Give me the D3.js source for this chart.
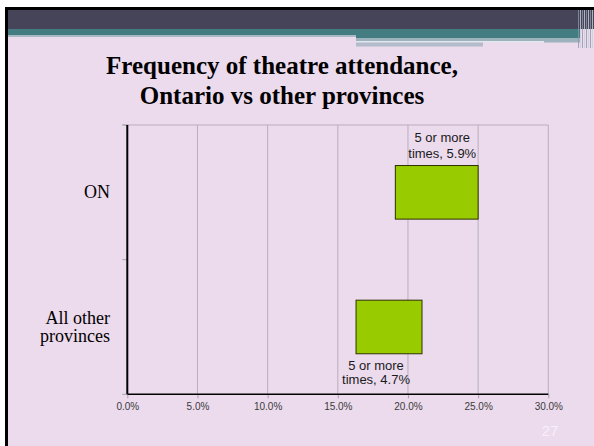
<!DOCTYPE html>
<html><head><meta charset="utf-8">
<script src="https://cdn.jsdelivr.net/npm/d3@7"></script>
<style>html,body{margin:0;padding:0;background:#fff;}svg{display:block;}</style>
</head><body>
<script>
const categories = ["ON", "All other provinces"];
const offsets = [19.1, 16.3];        // invisible leading segment (%)
const values = [5.9, 4.7];           // "5 or more times" (%)
const tickValues = [0, 5, 10, 15, 20, 25, 30];
const tickLabels = ["0.0%", "5.0%", "10.0%", "15.0%", "20.0%", "25.0%", "30.0%"];
const seriesName = "5 or more times";
const titleLines = ["Frequency of theatre attendance,", "Ontario vs other provinces"];
const catLines = [["ON"], ["All other", "provinces"]];
const pageNumber = "27";

const W = 594, H = 446;
const svg = d3.select("body").append("svg").attr("width", W).attr("height", H);

// slide frame
svg.append("rect").attr("x", 5).attr("y", 7).attr("width", W - 5).attr("height", H - 7).attr("fill", "#000");
svg.append("rect").attr("x", 8).attr("y", 10).attr("width", W - 8).attr("height", H - 10).attr("fill", "#ecdaed");
// header decoration
svg.append("rect").attr("x", 8).attr("y", 10).attr("width", W - 8).attr("height", 19).attr("fill", "#454459");
svg.append("rect").attr("x", 8).attr("y", 29).attr("width", 572).attr("height", 6).attr("fill", "#437d81");
svg.append("rect").attr("x", 8).attr("y", 35).attr("width", 348).attr("height", 2).attr("fill", "#a9b9c4");
svg.append("rect").attr("x", 356).attr("y", 35).attr("width", 224).attr("height", 3).attr("fill", "#437d81");
svg.append("rect").attr("x", 356).attr("y", 38).attr("width", 224).attr("height", 3).attr("fill", "#9cb2bd");
svg.append("rect").attr("x", 356).attr("y", 41).attr("width", 188).attr("height", 1.5).attr("fill", "#e2e6ee");
svg.append("rect").attr("x", 544).attr("y", 41).attr("width", 36).attr("height", 1.5).attr("fill", "#9cb2bd");
svg.append("rect").attr("x", 356).attr("y", 42.5).attr("width", 127).attr("height", 4).attr("fill", "#b3bccb");
// checkered right edge
const chk = svg.append("g");
for (let i = 0; i < 8; i++) {
  chk.append("rect").attr("x", 578 + i * 2).attr("y", 10).attr("width", 1).attr("height", 38)
    .attr("fill", i % 2 ? "#c8d0d8" : "#8c96a8").attr("opacity", 0.8);
}

// title
const title = svg.append("text").attr("text-anchor", "middle")
  .attr("font-family", "'Liberation Serif', 'Times New Roman', serif").attr("font-weight", "bold")
  .attr("font-size", 25).attr("fill", "#000");
titleLines.forEach((t, i) => title.append("tspan").attr("x", 282).attr("y", 74 + i * 29.5).text(t));

// plot
const x0 = 127.3, x1 = 548.3, yTop = 125, yBot = 394.3;
const x = d3.scaleLinear().domain([0, 30]).range([x0, x1]);
const y = d3.scaleBand().domain(categories).range([yTop, yBot]).paddingInner(0.602).paddingOuter(0.301);

const g = svg.append("g");
// gridlines
g.selectAll("line.grid").data(tickValues.slice(1)).enter().append("line")
  .attr("x1", d => x(d)).attr("x2", d => x(d)).attr("y1", yTop).attr("y2", yBot)
  .attr("stroke", "#b9afbd").attr("stroke-width", 1);
g.append("line").attr("x1", x0 - 5).attr("x2", x1).attr("y1", yTop).attr("y2", yTop)
  .attr("stroke", "#b9afbd").attr("stroke-width", 1);

// x axis
const xAxis = d3.axisBottom(x).tickValues(tickValues).tickFormat((d, i) => tickLabels[i]).tickSize(4).tickPadding(5);
const xa = g.append("g").attr("transform", `translate(0,${yBot})`).call(xAxis);
xa.select(".domain").remove();
xa.selectAll(".tick line").attr("stroke", "#a8a0ac");
xa.selectAll(".tick text").attr("font-family", "'Liberation Sans', Arial, sans-serif").attr("font-size", 10).attr("fill", "#3a3a3a");
g.append("line").attr("x1", x0).attr("x2", x1).attr("y1", yBot).attr("y2", yBot).attr("stroke", "#000").attr("stroke-width", 1.5);

// y ticks (category boundaries)
const step = y.step();
[yTop, yTop + step, yBot].forEach(v => g.append("line").attr("x1", x0 - 5).attr("x2", x0).attr("y1", v).attr("y2", v).attr("stroke", "#a8a0ac"));
g.append("line").attr("x1", x0).attr("x2", x0).attr("y1", yTop).attr("y2", yBot).attr("stroke", "#000").attr("stroke-width", 2);

// category labels
categories.forEach((c, i) => {
  const lines = catLines[i];
  const cy = y(c) + y.bandwidth() / 2;
  const t = g.append("text").attr("text-anchor", "end")
    .attr("font-family", "'Liberation Serif', 'Times New Roman', serif").attr("font-size", 18).attr("fill", "#000");
  lines.forEach((l, j) => t.append("tspan").attr("x", 110)
    .attr("y", cy + 6 + (j - (lines.length - 1) / 2) * 18.5).text(l));
});

// bars
g.selectAll("rect.bar").data(categories).enter().append("rect")
  .attr("x", (d, i) => x(offsets[i])).attr("y", d => y(d))
  .attr("width", (d, i) => x(offsets[i] + values[i]) - x(offsets[i])).attr("height", y.bandwidth())
  .attr("fill", "#99cc00").attr("stroke", "#2e3000").attr("stroke-width", 1);

// data labels
const labelDx = [5.5, -13];
categories.forEach((c, i) => {
  const cx = x(offsets[i] + values[i] / 2) + labelDx[i];
  const t = g.append("text").attr("text-anchor", "middle")
    .attr("font-family", "'Liberation Sans', Arial, sans-serif").attr("font-size", 13).attr("fill", "#1a1a1a");
  const l1 = "5 or more", l2 = "times, " + values[i].toFixed(1) + "%";
  if (i === 0) {
    t.append("tspan").attr("x", cx).attr("y", y(c) - 23.7).text(l1);
    t.append("tspan").attr("x", cx).attr("y", y(c) - 7.7).text(l2);
  } else {
    const b = y(c) + y.bandwidth();
    t.append("tspan").attr("x", cx).attr("y", b + 16.5).text(l1);
    t.append("tspan").attr("x", cx).attr("y", b + 30).text(l2);
  }
});

// page number
svg.append("text").attr("x", 550).attr("y", 436).attr("text-anchor", "middle")
  .attr("font-family", "'Liberation Sans', Arial, sans-serif").attr("font-size", 15)
  .attr("fill", "#f7f0f8").text(pageNumber);
</script>
</body></html>
